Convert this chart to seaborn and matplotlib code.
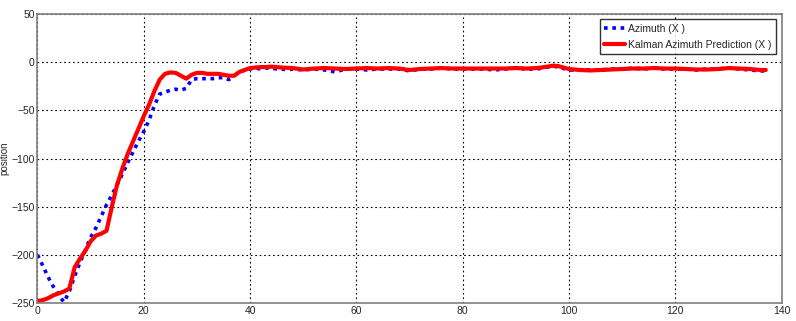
import matplotlib
matplotlib.use("Agg")
import matplotlib.pyplot as plt
import numpy as np
import pandas as pd
import seaborn as sns

# Azimuth (X) measurements
az_x = [0, 1, 2, 3, 4, 5, 6, 7, 8, 9, 10, 11, 12, 13, 14, 15, 16, 17, 18, 19,
        20, 21, 22, 23, 24, 25, 26, 27, 28, 29, 30, 31, 32, 33, 34, 35, 36, 37, 38, 39,
        40, 41, 42, 43, 44, 45, 46, 47, 48, 50, 52, 54, 56, 58, 60, 62, 64, 66, 68, 70,
        72, 74, 76, 78, 80, 82, 84, 86, 88, 90, 92, 94, 96, 97, 98, 100, 102, 104, 106, 108,
        110, 112, 114, 116, 118, 120, 122, 124, 126, 128, 130, 132, 134, 136, 137]
az_y = [-200, -211, -223, -233, -242, -249, -238, -222, -208, -195, -182, -172, -160, -148, -138, -127, -116, -104, -93, -82,
        -72, -60, -45, -33, -31, -29, -28, -29, -27, -18, -17, -17, -17, -17, -16, -16, -18, -14, -10, -8,
        -7, -6, -7, -6, -6, -7, -7, -8, -7, -8, -7, -8, -10, -7, -7, -8, -7, -7, -7, -9,
        -7, -7, -6, -7, -7, -7, -7, -8, -7, -6, -7, -7, -5, -4, -5, -8, -8, -8, -8, -7,
        -7, -6, -7, -6, -7, -7, -7, -8, -7, -7, -6, -7, -8, -9, -9]

# Kalman azimuth prediction (X)
kal_x = [0, 1, 2, 3, 4, 5, 6, 7, 8, 9, 10, 11, 12, 13, 14, 15, 16, 17, 18, 19,
         20, 21, 22, 23, 24, 25, 26, 27, 28, 29, 30, 31, 32, 33, 34, 35, 36, 37, 38, 39,
         40, 41, 42, 43, 44, 45, 46, 48, 50, 52, 54, 56, 58, 60, 62, 64, 66, 68, 70, 72,
         74, 76, 78, 80, 82, 84, 86, 88, 90, 92, 94, 96, 97, 98, 100, 102, 104, 106, 108, 110,
         112, 114, 116, 118, 120, 122, 124, 126, 128, 130, 132, 134, 136, 137]
kal_y = [-248, -247, -245, -242, -240, -238, -235, -213, -204, -196, -186, -180, -178, -175, -150, -127, -110, -95, -82, -69,
         -56, -44, -30, -18, -12, -10.5, -11, -14, -17, -13, -11, -11, -12, -12, -12, -13, -14, -14, -10, -8,
         -6, -5.5, -5, -5, -4.5, -5, -5.5, -6, -7.5, -6.5, -6, -6.5, -7, -6.5, -6, -6.5, -6, -6.5, -8, -7,
         -6.5, -6, -6.5, -6.5, -6.5, -6.5, -6.5, -6.5, -6, -6.5, -6, -4.5, -3.5, -4, -7, -8, -8.5, -8, -7.5, -7,
         -6.5, -6.5, -6, -6.5, -6.5, -7, -7.5, -7.5, -7, -6, -6.5, -7, -8, -8]

sns.set_style("white")
plt.rcParams["font.family"] = ["Liberation Sans", "DejaVu Sans"]

az = pd.DataFrame({"x": az_x, "y": az_y})
kal = pd.DataFrame({"x": kal_x, "y": kal_y})

fig = plt.figure(figsize=(7.96, 3.21), dpi=100)
ax = fig.add_axes([0.047, 0.056, 0.935, 0.9])

sns.lineplot(data=az, x="x", y="y", ax=ax, color="#0000ff", lw=2.6,
             linestyle=(0, (1, 1.3)), label="Azimuth (X )")
sns.lineplot(data=kal, x="x", y="y", ax=ax, color="#ff0000", lw=3.0,
             label="Kalman Azimuth Prediction (X )")

ax.set_xlim(0, 140)
ax.set_ylim(-250, 50)
ax.set_xticks(np.arange(0, 141, 20))
ax.set_yticks(np.arange(-250, 51, 50))
ax.grid(True, color="black", linestyle=(0, (1.5, 2.5)), lw=0.8)
ax.tick_params(direction="in", length=4, labelsize=7.5, pad=2)
for s in ax.spines.values():
    s.set_color("#7f7f7f")
    s.set_linewidth(1.2)
ax.set_xlabel("")
ax.set_ylabel("position", fontsize=7)
ax.yaxis.set_label_coords(-0.037, 0.5)

leg = ax.legend(loc="upper right", fontsize=7.5, frameon=True, fancybox=False,
                borderaxespad=0.5, handlelength=2.0, handletextpad=0.3,
                borderpad=0.45, labelspacing=0.55)
leg.get_frame().set_edgecolor("black")
leg.get_frame().set_linewidth(1.0)

fig.savefig("out.png", dpi=100)
